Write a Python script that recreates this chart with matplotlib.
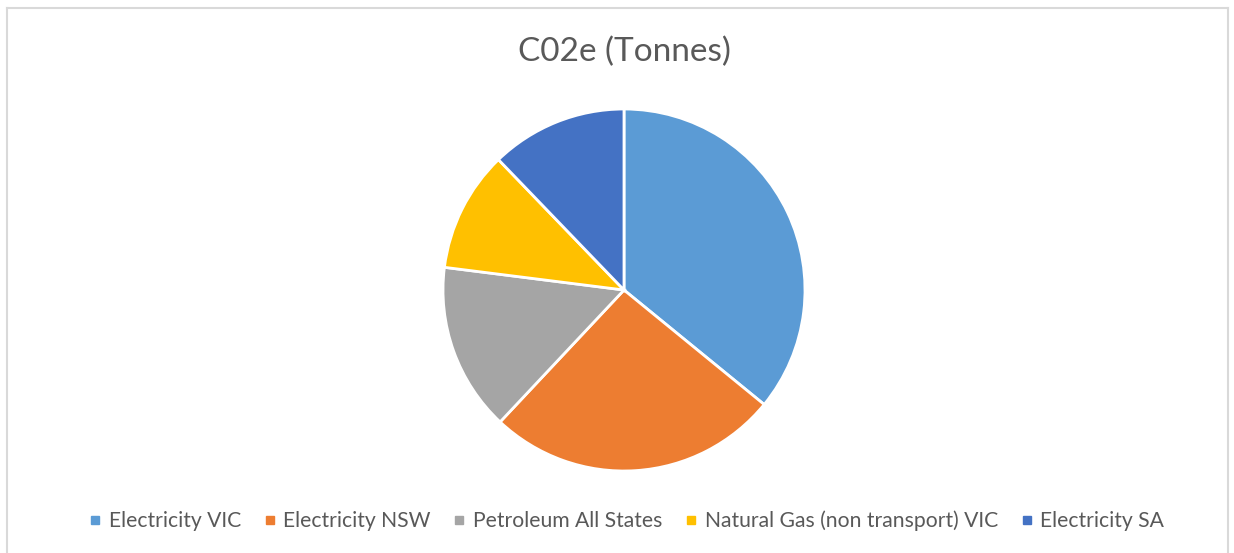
import matplotlib.pyplot as plt
from matplotlib.lines import Line2D

labels = ['Electricity VIC', 'Electricity NSW', 'Petroleum All States',
          'Natural Gas (non transport) VIC', 'Electricity SA']
values = [35.9, 26.1, 15.0, 10.8, 12.2]
colors = ['#5B9BD5', '#ED7D31', '#A5A5A5', '#FFC000', '#4472C4']

W, H = 1234, 553
plt.rcParams['font.family'] = ['Lato', 'DejaVu Sans']

fig = plt.figure(figsize=(W / 100, H / 100), dpi=100)

# chart area border (light gray, bottom cut off)
border = '#D9D9D9'
fig.add_artist(Line2D([7 / W, 7 / W], [0, 1 - 8 / H], color=border, lw=1.5))
fig.add_artist(Line2D([7 / W, 1228 / W], [1 - 8 / H, 1 - 8 / H], color=border, lw=1.5))
fig.add_artist(Line2D([1228 / W, 1228 / W], [0, 1 - 8 / H], color=border, lw=1.5))

cx, cy, r = 624, 290, 181
ax = fig.add_axes([(cx - r) / W, (H - cy - r) / H, 2 * r / W, 2 * r / H])
ax.pie(values, colors=colors, startangle=90, counterclock=False,
       wedgeprops=dict(edgecolor='white', linewidth=2))
ax.set_xlim(-1, 1)
ax.set_ylim(-1, 1)
ax.axis('off')

fig.text(624 / W, 1 - 52 / H, 'C02e (Tonnes)', ha='center', va='center',
         fontsize=24, color='#595959')

handles = [Line2D([], [], marker='s', linestyle='', markersize=6,
                  markerfacecolor=c, markeredgecolor=c) for c in colors]
fig.legend(handles, labels, loc='center', bbox_to_anchor=(626 / W, 1 - 521 / H),
           ncol=5, frameon=False, fontsize=15.2, labelcolor='#595959',
           handletextpad=0.3, columnspacing=1.0, handlelength=0.7)

fig.savefig('out.png', dpi=100)
